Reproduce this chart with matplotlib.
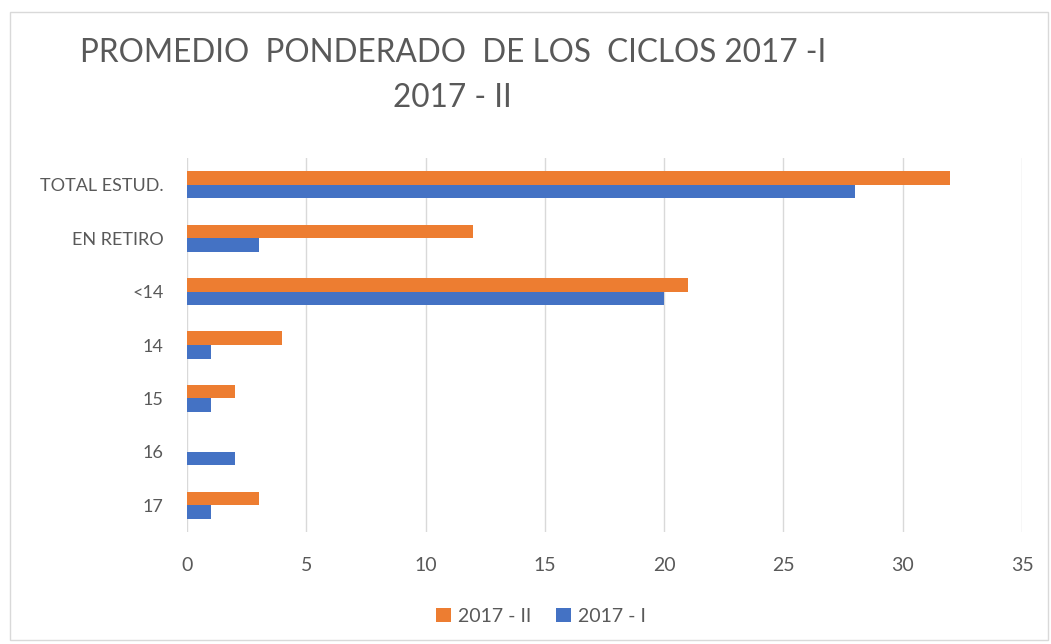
import matplotlib.pyplot as plt
import numpy as np

# data
categories = ['TOTAL ESTUD.', 'EN RETIRO', '<14', '14', '15', '16', '17']
ciclo_2017_ii = [32, 12, 21, 4, 2, 0, 3]
ciclo_2017_i = [28, 3, 20, 1, 1, 2, 1]
x_ticks = [0, 5, 10, 15, 20, 25, 30, 35]

plt.rcParams['font.family'] = ['Lato', 'DejaVu Sans']

orange = '#ED7D31'
blue = '#4472C4'
text_gray = '#595959'

W, H = 1051, 644
fig = plt.figure(figsize=(W / 100, H / 100), dpi=100)
ax = fig.add_axes([187 / W, 1 - 532 / H, (1022 - 187) / W, (532 - 158) / H])

# outer chart frame
fig.patches.append(plt.Rectangle((10 / W, 4 / H), 1038 / W, 628 / H,
                                 transform=fig.transFigure, fill=False,
                                 edgecolor='#d9d9d9', linewidth=1))

y = np.arange(len(categories))
h = 0.253
ax.barh(y - h / 2, ciclo_2017_ii, height=h, color=orange, label='2017 - II', zorder=3)
ax.barh(y + h / 2, ciclo_2017_i, height=h, color=blue, label='2017 - I', zorder=3)

ax.set_ylim(len(categories) - 0.5, -0.5)
ax.set_xlim(0, 35)
ax.set_xticks(x_ticks)
ax.set_yticks(y)
ax.set_yticklabels(categories)
ax.tick_params(axis='both', length=0, colors=text_gray)
ax.tick_params(axis='x', labelsize=14, pad=18)
ax.tick_params(axis='y', labelsize=13, pad=17)

ax.grid(axis='x', color='#d9d9d9', linewidth=1, zorder=0)
for s in ax.spines.values():
    s.set_visible(False)

fig.text(80 / W, 1 - 53 / H, 'PROMEDIO  PONDERADO  DE LOS  CICLOS 2017 -I',
         fontsize=22.7, color=text_gray, va='center', ha='left')
fig.text(452 / W, 1 - 98 / H, '2017 - II',
         fontsize=22.7, color=text_gray, va='center', ha='center')

fig.legend(*ax.get_legend_handles_labels(), loc='center',
           bbox_to_anchor=(541 / W, 1 - 616 / H), ncol=2,
           frameon=False, fontsize=14, labelcolor=text_gray, handlelength=0.75,
           handleheight=0.75, handletextpad=0.35, columnspacing=1.3)

fig.savefig('out.png', dpi=100)
